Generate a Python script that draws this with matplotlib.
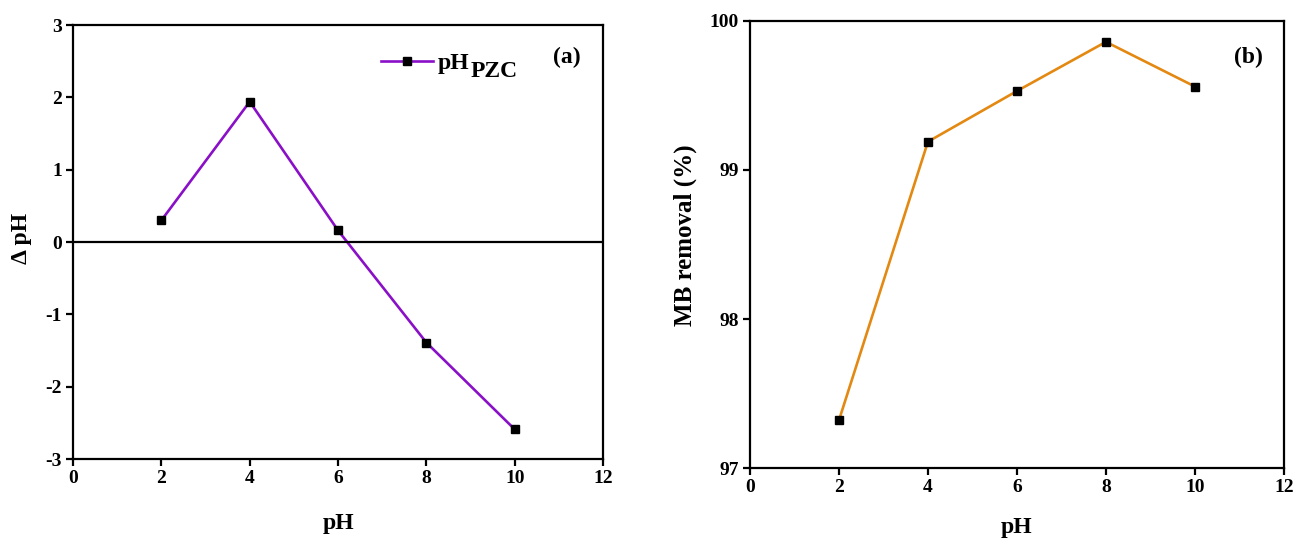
import matplotlib
matplotlib.use("Agg")
import matplotlib.pyplot as plt
from matplotlib.transforms import offset_copy

plt.rcParams['font.family'] = ['Liberation Serif', 'DejaVu Serif']
plt.rcParams['font.weight'] = 'bold'
plt.rcParams['axes.unicode_minus'] = False

ph = [2, 4, 6, 8, 10]
delta_ph = [0.30, 1.94, 0.16, -1.39, -2.59]
mb_removal = [97.32, 99.19, 99.53, 99.86, 99.56]

xticks = [0, 2, 4, 6, 8, 10, 12]
yticks_a = [-3, -2, -1, 0, 1, 2, 3]
yticks_b = [97, 98, 99, 100]

purple = '#8a10c8'
orange = '#e38912'

fig = plt.figure(figsize=(12.93, 5.44), dpi=100)
ax1 = fig.add_axes([0.0565, 0.1562, 0.4099, 0.7978])
ax2 = fig.add_axes([0.580, 0.1397, 0.413, 0.8217])

def style(ax):
    for s in ax.spines.values():
        s.set_linewidth(1.6)
    ax.tick_params(axis='both', which='both', direction='out', length=5, width=1.6,
                   labelsize=14, top=False, right=False, pad=3)
    for lab in ax.get_xticklabels() + ax.get_yticklabels():
        lab.set_fontweight('bold')

ax1.plot(ph, delta_ph, '-', color=purple, lw=1.9, marker='s', ms=6,
         mfc='black', mec='black', label='pH')
ax1.axhline(0, color='black', lw=1.6)
ax1.set_xlim(0, 12)
ax1.set_ylim(-3, 3)
ax1.set_xticks(xticks)
ax1.set_yticks(yticks_a)
style(ax1)
ax1.set_xlabel('pH', fontsize=17, fontweight='bold')
ax1.xaxis.set_label_coords(0.5, -0.125)
ax1.set_ylabel('\u0394 pH', fontsize=17, fontweight='bold')
ax1.yaxis.set_label_coords(-0.077, 0.509)
leg = ax1.legend(loc='center left', bbox_to_anchor=(0.581, 0.912), frameon=False,
                 prop={'size': 17, 'weight': 'bold'}, handlelength=2.2,
                 handletextpad=0.2, borderpad=0, borderaxespad=0)
ax1.text(0.932, 0.926, '(a)', transform=ax1.transAxes, fontsize=17, fontweight='bold',
         ha='center', va='center')

ax2.plot(ph, mb_removal, '-', color=orange, lw=1.9, marker='s', ms=6,
         mfc='black', mec='black')
ax2.set_xlim(0, 12)
ax2.set_ylim(97, 100)
ax2.set_xticks(xticks)
ax2.set_yticks(yticks_b)
style(ax2)
ax2.set_xlabel('pH', fontsize=17, fontweight='bold')
ax2.xaxis.set_label_coords(0.5, -0.11)
ax2.set_ylabel('MB removal (%)', fontsize=18, fontweight='bold')
ax2.yaxis.set_label_coords(-0.099, 0.521)
ax2.text(0.934, 0.919, '(b)', transform=ax2.transAxes, fontsize=17, fontweight='bold',
         ha='center', va='center')

# subscript "PZC" placed right after legend text
fig.canvas.draw()
bb = leg.get_texts()[0].get_window_extent()
fig.text(bb.x1 + 1, bb.y0 - 8, 'PZC', transform=None, fontsize=17,
         fontweight='bold', ha='left', va='bottom')

fig.savefig('out.png', dpi=100)
